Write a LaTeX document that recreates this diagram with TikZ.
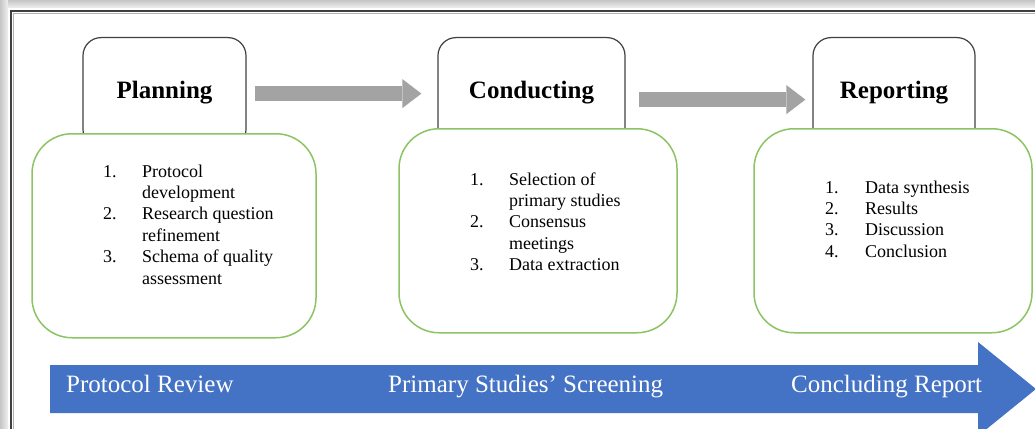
\documentclass[tikz,border=0pt]{standalone}
\usepackage{fontspec}
\setmainfont{Liberation Serif}
\usetikzlibrary{arrows.meta}
\definecolor{boxgreen}{RGB}{140,196,100}
\definecolor{bandblue}{RGB}{68,114,196}
\definecolor{arrowgray}{RGB}{163,163,163}

\begin{document}
\begin{tikzpicture}[x=1pt,y=-1pt]
\useasboundingbox (0,0) rectangle (1035,428);
\shade[left color=gray!45,right color=gray!12] (0,0) rectangle (8,428);
\shade[top color=gray!45,bottom color=gray!12] (8,0) rectangle (1035,8);
\draw[black!75,line width=2pt] (11,440) -- (11,11) -- (1040,11);
\draw[black!30,line width=1pt] (13.5,440) -- (13.5,13.5) -- (1040,13.5);

\begin{scope}[every node/.style={draw=black!75,line width=1.2pt,rounded corners=18pt,
              minimum height=110pt,anchor=north,font=\fontsize{25}{30}\selectfont\bfseries}]
    \node[minimum width=163pt] (plan) at (164.5,37) {Planning};
    \node[minimum width=187pt] (cond) at (531.5,37) {Conducting};
    \node[minimum width=162pt] (rep) at (894,37) {Reporting};
\end{scope}

\begin{scope}[every node/.style={draw=boxgreen,fill=white,line width=1.5pt,rounded corners=40pt,
              minimum height=204pt,anchor=north}]
    \node[minimum width=284pt] (planbox) at (174,133) {};
    \node[minimum width=278pt] (condbox) at (538,128) {};
    \node[minimum width=278pt] (repbox) at (893,128) {};
\end{scope}

\begin{scope}[every node/.style={anchor=base west,inner sep=0pt,font=\fontsize{18}{21.4}\selectfont}]
    \node (planlist) at (103,177) {\begin{tabular}[t]{@{}p{39pt}@{}l@{}}
        1. & Protocol\\ & development\\ 2. & Research question\\ & refinement\\
        3. & Schema of quality\\ & assessment\end{tabular}};
    \node (condlist) at (470,185) {\begin{tabular}[t]{@{}p{39pt}@{}l@{}}
        1. & Selection of\\ & primary studies\\ 2. & Consensus\\ & meetings\\
        3. & Data extraction\end{tabular}};
    \node (replist) at (825,193) {\begin{tabular}[t]{@{}p{40pt}@{}l@{}}
        1. & Data synthesis\\ 2. & Results\\ 3. & Discussion\\ 4. & Conclusion\end{tabular}};
\end{scope}

\begin{scope}[every edge/.style={draw=arrowgray,line width=15pt,
              -{Triangle[length=19pt,width=29pt,line width=0pt]}}]
    \path ([yshift=-1pt]plan.east) edge[shorten <=8pt,shorten >=16pt] ([yshift=-1pt]cond.west);
    \path ([yshift=-7pt]cond.east) edge[shorten <=13pt,shorten >=7pt] ([yshift=-7pt]rep.west);
\end{scope}

\fill[bandblue] (50,365) -- (978,365) -- (978,342) -- (1036,389) -- (978,436) -- (978,413) -- (50,413) -- cycle;

\begin{scope}[every node/.style={anchor=base west,inner sep=0pt,text=white,font=\fontsize{25}{30}\selectfont}]
    \node (review) at (66,392) {Protocol Review};
    \node (screening) at (388,392) {Primary Studies’ Screening};
    \node (report) at (791,392) {Concluding Report};
\end{scope}
\end{tikzpicture}
\end{document}
